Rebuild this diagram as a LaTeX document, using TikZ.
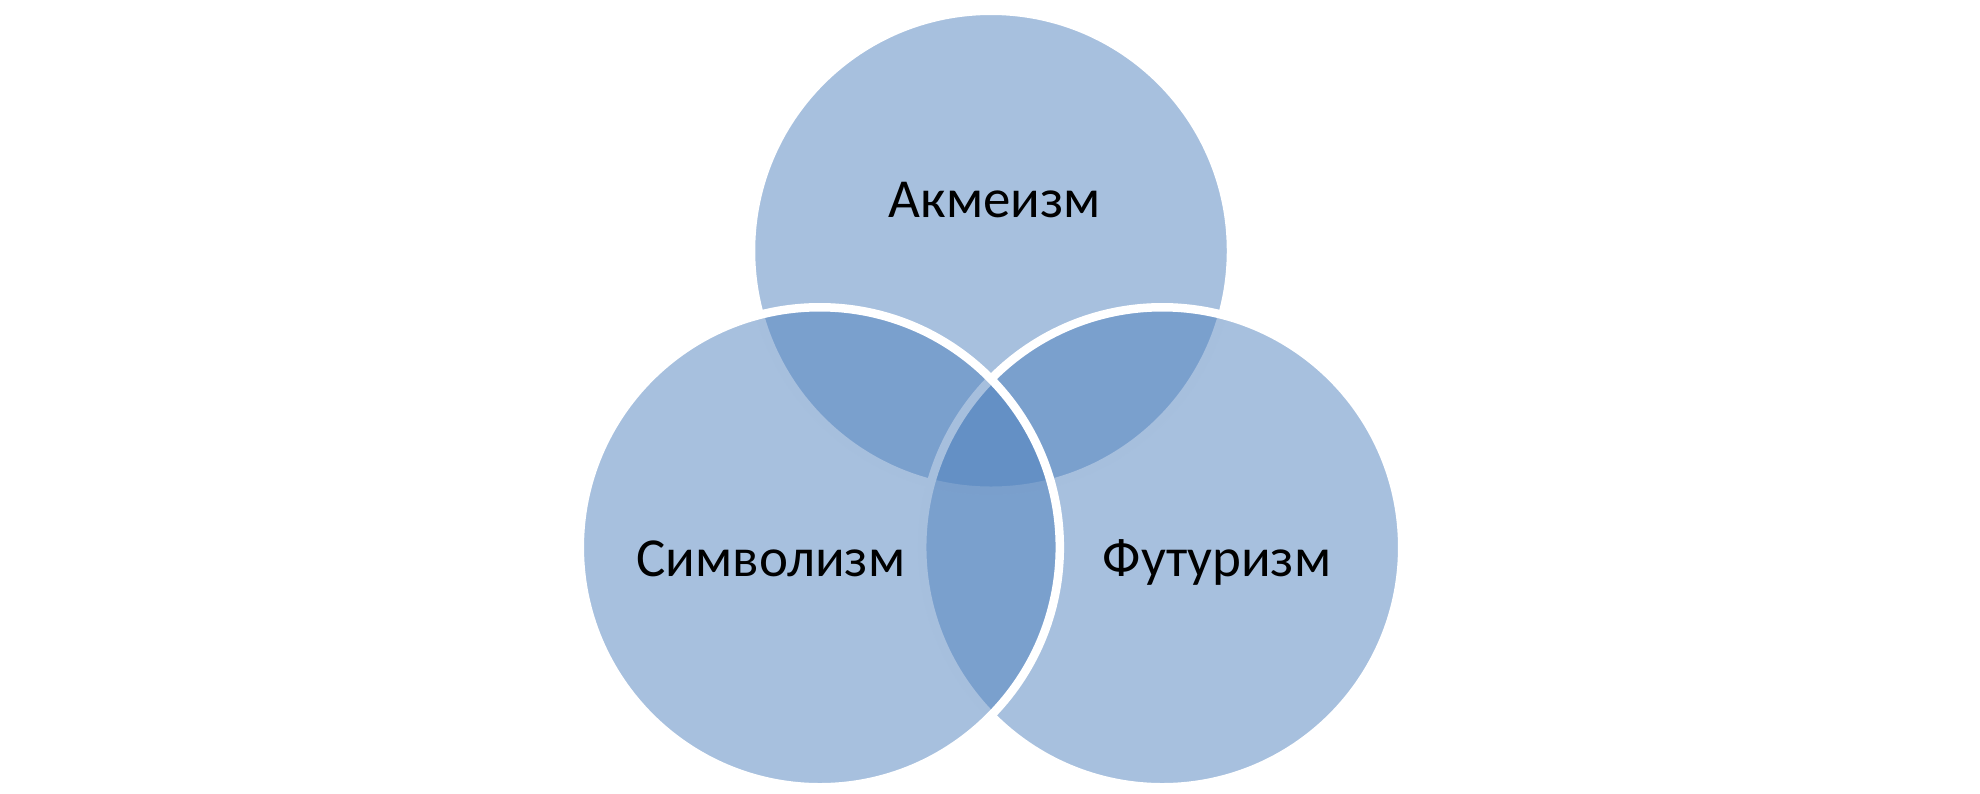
\documentclass[tikz,border=0pt]{standalone}
\usepackage{fontspec}
\setmainfont{Carlito}
\definecolor{vennblue}{RGB}{79,129,189}
\tikzset{
  venncircle/.style={fill=vennblue, fill opacity=0.5, draw=white, draw opacity=1, line width=8.5pt},
  vennlabel/.style={anchor=base, inner sep=0pt, text=black, font=\fontsize{55}{66}\selectfont}
}
\begin{document}
\begin{tikzpicture}[x=1pt,y=-1pt]
\useasboundingbox (0,0) rectangle (1980,793);
\coordinate (ctop) at (991,250.75);
\coordinate (cleft) at (819.8,547.25);
\coordinate (cright) at (1162.2,547.25);
\path[venncircle] (ctop) circle[radius=240pt];
\path[venncircle] (cright) circle[radius=240pt];
\path[venncircle] (cleft) circle[radius=240pt];
\node[vennlabel] (akme) at (995,217) {Акмеизм};
\node[vennlabel] (symb) at (771,576) {Символизм};
\node[vennlabel] (futu) at (1217,576) {Футуризм};
\end{tikzpicture}
\end{document}
